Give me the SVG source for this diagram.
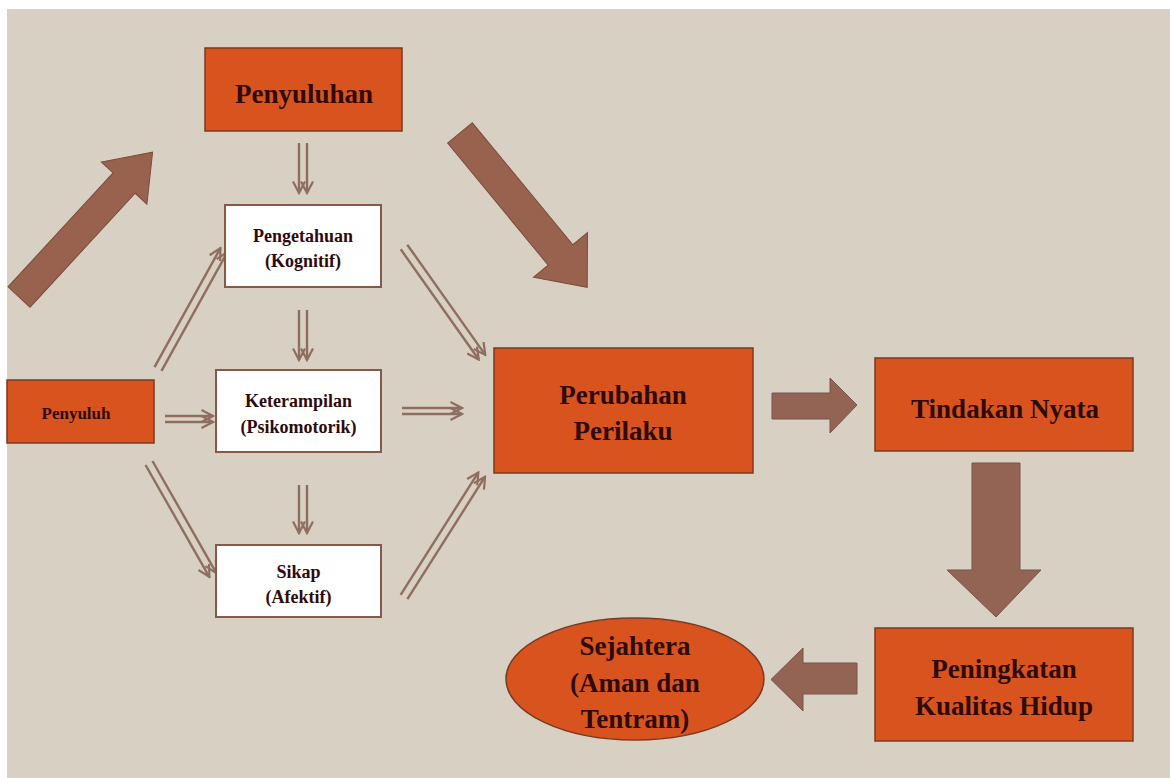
<svg xmlns="http://www.w3.org/2000/svg" width="1170" height="778" viewBox="0 0 1170 778">
<style>
.bg{fill:#d8d0c2}
.org{fill:#d9531f;stroke:#7a3a22;stroke-width:1.5}
.wht{fill:#ffffff;stroke:#86594a;stroke-width:2}
.big{fill:#98624f;stroke:#7c4c3c;stroke-width:1}
.blk{fill:#936353;stroke:#76564a;stroke-width:1}
.t{font-family:"Liberation Serif","Times New Roman",serif;font-weight:bold;fill:#2e0b0a;text-anchor:middle}
.tl{font-size:27px}
.ts{font-size:18px}
.dl{stroke:#8e6e61;stroke-width:2.4;fill:none;marker-end:url(#v)}
</style>
<defs>
<marker id="v" viewBox="0 0 14 14" refX="12.5" refY="7" markerWidth="14" markerHeight="14" markerUnits="userSpaceOnUse" orient="auto">
<path d="M1,1 L12.5,7 L1,13" fill="none" stroke="#8e6e61" stroke-width="2.2"/>
</marker>
</defs>
<rect x="0" y="0" width="1170" height="778" fill="#ffffff"/>
<rect class="bg" x="7" y="9" width="1163" height="769"/>

<g id="connectors">
<polygon class="big" transform="translate(19,297) rotate(-47.3)" points="0,-15 155,-15 155,-31 197,0 155,31 155,15 0,15"/>
<polygon class="big" transform="translate(460,133) rotate(50.5)" points="0,-16 158,-16 158,-35 200,0 158,35 158,16 0,16"/>
<polygon class="blk" points="772,393 830,393 830,378 857,405 830,433 830,419 772,419"/>
<polygon class="blk" points="972,463 1020,463 1020,570 1041,570 996,617 947,570 972,570"/>
<polygon class="blk" points="857,663 857,694 803,694 803,711 771,679.5 803,648 803,663"/>

<g transform="translate(303,143) rotate(90)"><line class="dl" x1="0" y1="-4" x2="50" y2="-4"/><line class="dl" x1="0" y1="4" x2="50" y2="4"/></g>
<g transform="translate(303,310) rotate(90)"><line class="dl" x1="0" y1="-4" x2="50" y2="-4"/><line class="dl" x1="0" y1="4" x2="50" y2="4"/></g>
<g transform="translate(303,485) rotate(90)"><line class="dl" x1="0" y1="-4" x2="48" y2="-4"/><line class="dl" x1="0" y1="4" x2="48" y2="4"/></g>
<g transform="translate(158,369) rotate(-61)"><line class="dl" x1="0" y1="-4" x2="136" y2="-4"/><line class="dl" x1="0" y1="4" x2="136" y2="4"/></g>
<g transform="translate(165,419)"><line class="dl" x1="0" y1="-3" x2="48" y2="-3"/><line class="dl" x1="0" y1="3" x2="48" y2="3"/></g>
<g transform="translate(149,463) rotate(60.3)"><line class="dl" x1="0" y1="-4" x2="129" y2="-4"/><line class="dl" x1="0" y1="4" x2="129" y2="4"/></g>
<g transform="translate(404,247) rotate(54.7)"><line class="dl" x1="0" y1="-4" x2="135" y2="-4"/><line class="dl" x1="0" y1="4" x2="135" y2="4"/></g>
<g transform="translate(402,411)"><line class="dl" x1="0" y1="-3" x2="60" y2="-3"/><line class="dl" x1="0" y1="3" x2="60" y2="3"/></g>
<g transform="translate(404,597) rotate(-57.6)"><line class="dl" x1="0" y1="-4" x2="145" y2="-4"/><line class="dl" x1="0" y1="4" x2="145" y2="4"/></g>
</g>

<g id="penyuluhan">
<rect class="org" x="205" y="48" width="197" height="83"/>
<text class="t tl" x="304" y="103">Penyuluhan</text>
</g>
<g id="pengetahuan">
<rect class="wht" x="225" y="205" width="156" height="82"/>
<text class="t ts" x="303" y="242">Pengetahuan</text>
<text class="t ts" x="303" y="267">(Kognitif)</text>
</g>
<g id="keterampilan">
<rect class="wht" x="216" y="370" width="165" height="82"/>
<text class="t ts" x="298.5" y="407">Keterampilan</text>
<text class="t ts" x="298.5" y="433">(Psikomotorik)</text>
</g>
<g id="sikap">
<rect class="wht" x="216" y="545" width="165" height="72"/>
<text class="t ts" x="298.5" y="578">Sikap</text>
<text class="t ts" x="298.5" y="603">(Afektif)</text>
</g>
<g id="penyuluh">
<rect class="org" x="7" y="380" width="147" height="63"/>
<text class="t" style="font-size:17px" x="76" y="419">Penyuluh</text>
</g>
<g id="perubahan">
<rect class="org" x="494" y="348" width="259" height="125"/>
<text class="t tl" x="623" y="404">Perubahan</text>
<text class="t tl" x="623" y="440">Perilaku</text>
</g>
<g id="tindakan">
<rect class="org" x="875" y="358" width="258" height="93"/>
<text class="t tl" x="1005" y="418">Tindakan Nyata</text>
</g>
<g id="peningkatan">
<rect class="org" x="875" y="628" width="258" height="113"/>
<text class="t tl" x="1004" y="678">Peningkatan</text>
<text class="t tl" x="1004" y="715">Kualitas Hidup</text>
</g>
<g id="sejahtera">
<ellipse class="org" cx="635" cy="679" rx="129" ry="61"/>
<text class="t tl" x="635" y="655">Sejahtera</text>
<text class="t tl" x="635" y="692">(Aman dan</text>
<text class="t tl" x="635" y="728">Tentram)</text>
</g>
</svg>
